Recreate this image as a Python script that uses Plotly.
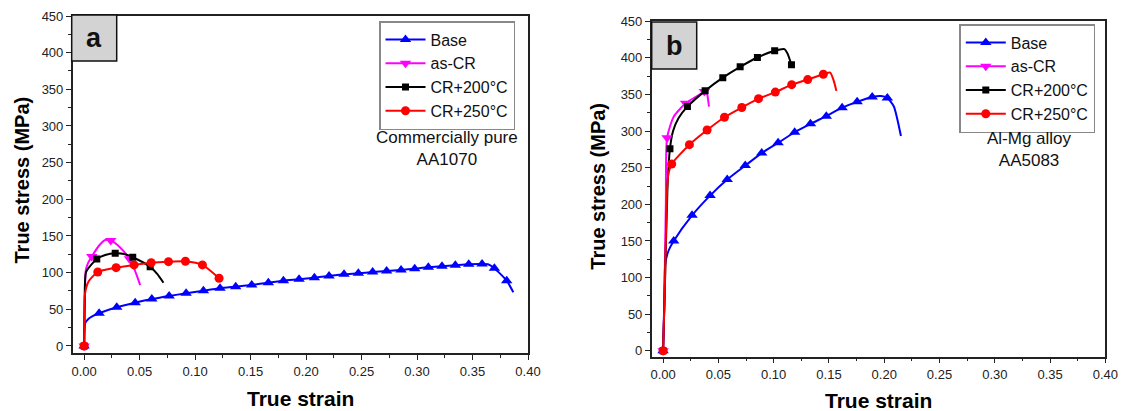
import plotly.graph_objects as go

# ---------------- Panel a : Commercially pure AA1070 ----------------
a_base_strain = [0, 0.001, 0.004, 0.008, 0.0135, 0.0294, 0.046, 0.061, 0.0766, 0.0919, 0.1075, 0.1225,
                 0.1366, 0.151, 0.166, 0.1796, 0.1937, 0.2075, 0.2207, 0.2342, 0.2471, 0.26, 0.2726,
                 0.2856, 0.2979, 0.3102, 0.3225, 0.3345, 0.3466, 0.3586, 0.364, 0.3697, 0.3808, 0.3868]
a_base_stress = [0, 31, 37, 41, 44.6, 52.7, 59, 64, 68.2, 71.8, 75.4, 78.7, 80.9, 83.2, 86.3, 89, 91,
                 93.2, 95.5, 97.7, 99.1, 100.9, 102.3, 103.6, 105.4, 107.3, 108.6, 110, 111.4, 111.8,
                 111.4, 106, 89, 73.2]
a_base_marks = [0] + list(range(4, 30)) + [31, 32]

a_ascr_strain = [0, 0.0005, 0.0015, 0.0035, 0.0069, 0.013, 0.019, 0.024, 0.032, 0.0408, 0.046, 0.0505]
a_ascr_stress = [0, 50, 103, 113, 122, 136, 144.5, 144, 135, 119, 102, 83]
a_ascr_marks = [0, 4, 7, 9]

a_cr200_strain = [0, 0.0005, 0.0018, 0.0114, 0.019, 0.028, 0.036, 0.0438, 0.0595, 0.066, 0.0715]
a_cr200_stress = [0, 60, 101, 118.6, 124, 126.4, 125.5, 121, 108, 98, 86.3]
a_cr200_marks = [0, 3, 5, 7, 8]

a_cr250_strain = [0, 0.0003, 0.0006, 0.004, 0.0123, 0.0288, 0.045, 0.0604, 0.076, 0.0913, 0.1066, 0.1216]
a_cr250_stress = [0, 40, 69.5, 88, 100.9, 106.8, 110.5, 113.6, 115, 115.5, 110.5, 92.3]
a_cr250_marks = [0] + list(range(4, 12))

# ---------------- Panel b : Al-Mg alloy AA5083 ----------------
b_base_strain = [0, 0.001, 0.002, 0.005, 0.0096, 0.0262, 0.0425, 0.058, 0.0743, 0.0892, 0.104, 0.119,
                 0.1333, 0.1476, 0.1619, 0.1755, 0.1891, 0.197, 0.2028, 0.2086, 0.2151]
b_base_stress = [0, 60, 119, 137, 150, 185, 212, 233.9, 253, 270, 284, 298.5, 310, 320.5, 332, 340,
                 346.7, 348, 345.4, 334, 293.3]
b_base_marks = [0] + list(range(4, 17)) + [18]

b_ascr_strain = [0, 0.001, 0.0025, 0.0036, 0.0096, 0.0204, 0.0373, 0.039, 0.0405, 0.0415]
b_ascr_stress = [0, 60, 200, 291, 319.7, 338, 354, 356, 345, 333.5]
b_ascr_marks = [0, 3, 5, 6]

b_cr200_strain = [0, 0.0015, 0.004, 0.0062, 0.009, 0.014, 0.022, 0.038, 0.054, 0.0697, 0.0853, 0.1009,
                  0.1097, 0.1125, 0.1161]
b_cr200_stress = [0, 80, 224, 276, 300, 318, 333.5, 355, 373, 387.8, 400.6, 409.8, 412, 406, 390.6]
b_cr200_marks = [0, 3, 6, 7, 8, 9, 10, 11, 14]

b_cr250_strain = [0, 0.0015, 0.0036, 0.005, 0.0078, 0.0238, 0.0398, 0.0555, 0.0712, 0.0863, 0.1015,
                  0.1163, 0.1308, 0.1449, 0.1511, 0.1545, 0.1567]
b_cr250_stress = [0, 80, 220, 243, 255.2, 281.5, 301.5, 319, 332.3, 344.4, 353.3, 363.5, 370.4, 377.7,
                  380, 368, 355]
b_cr250_marks = [0] + list(range(4, 14))

series_names = ["Base", "as-CR", "CR+200°C", "CR+250°C"]
x_ticks = [0, 0.05, 0.10, 0.15, 0.20, 0.25, 0.30, 0.35, 0.40]
panel_notes = ["Commercially pure<br>AA1070", "Al-Mg alloy<br>AA5083"]
panel_letters = ["a", "b"]

colors = ["#0000FF", "#FF00FF", "#000000", "#FF0000"]
symbols = ["triangle-up", "triangle-down", "square", "circle"]
msizes = [10, 10, 7, 9]

FONT = "Liberation Sans, Arial, sans-serif"
W, H = 1122, 411

fig = go.Figure()

panels = [
    dict(xa="x", ya="y", legend="legend",
         data=[(a_base_strain, a_base_stress, a_base_marks),
               (a_ascr_strain, a_ascr_stress, a_ascr_marks),
               (a_cr200_strain, a_cr200_stress, a_cr200_marks),
               (a_cr250_strain, a_cr250_stress, a_cr250_marks)]),
    dict(xa="x2", ya="y2", legend="legend2",
         data=[(b_base_strain, b_base_stress, b_base_marks),
               (b_ascr_strain, b_ascr_stress, b_ascr_marks),
               (b_cr200_strain, b_cr200_stress, b_cr200_marks),
               (b_cr250_strain, b_cr250_stress, b_cr250_marks)]),
]

for p in panels:
    # legend entries
    for k, name in enumerate(series_names):
        fig.add_trace(go.Scatter(x=[None], y=[None], mode="lines+markers", name=name,
                                 line=dict(color=colors[k], width=2),
                                 marker=dict(symbol=symbols[k], size=msizes[k], color=colors[k]),
                                 xaxis=p["xa"], yaxis=p["ya"], legend=p["legend"], showlegend=True))
    for k, (xs, ys, marks) in enumerate(p["data"]):
        fig.add_trace(go.Scatter(x=xs, y=ys, mode="lines", line=dict(color=colors[k], width=2,
                                 shape="spline", smoothing=0.6),
                                 xaxis=p["xa"], yaxis=p["ya"], showlegend=False, hoverinfo="skip"))
    for k, (xs, ys, marks) in enumerate(p["data"]):
        fig.add_trace(go.Scatter(x=[xs[i] for i in marks], y=[ys[i] for i in marks], mode="markers",
                                 marker=dict(symbol=symbols[k], size=msizes[k], color=colors[k],
                                             line=dict(width=0)),
                                 xaxis=p["xa"], yaxis=p["ya"], showlegend=False))


def px_x(v):
    return v / W


def px_y(v):
    return 1 - v / H


axis_common = dict(showgrid=False, zeroline=False, showline=True, linecolor="#222", linewidth=1.5,
                   mirror=True, ticks="outside", ticklen=5, tickwidth=1.3, tickcolor="#222",
                   tickfont=dict(family=FONT, size=13, color="#222"))

fig.update_layout(
    width=W, height=H, margin=dict(l=0, r=0, t=0, b=0, autoexpand=False),
    paper_bgcolor="white", plot_bgcolor="white",
    font=dict(family=FONT, color="#111"),
    xaxis=dict(domain=[px_x(72.7), px_x(528)], range=[-0.0103, 0.40], tickvals=x_ticks,
               tickformat=".2f", minor=dict(dtick=0.025, tick0=0, ticklen=3, ticks="outside",
                                            tickcolor="#222"), anchor="y", **axis_common),
    yaxis=dict(domain=[px_y(353.3), px_y(16)], range=[-10, 450], dtick=50, tick0=0,
               minor=dict(dtick=25, ticklen=3, ticks="outside", tickcolor="#222"), anchor="x",
               **axis_common),
    xaxis2=dict(domain=[px_x(651.7), px_x(1105.4)], range=[-0.0103, 0.40], tickvals=x_ticks,
                tickformat=".2f", minor=dict(dtick=0.025, tick0=0, ticklen=3, ticks="outside",
                                             tickcolor="#222"), anchor="y2", **axis_common),
    yaxis2=dict(domain=[px_y(356.7), px_y(21.3)], range=[-8, 450], dtick=50, tick0=0,
                minor=dict(dtick=25, ticklen=3, ticks="outside", tickcolor="#222"), anchor="x2",
                **axis_common),
    legend=dict(x=px_x(379), y=px_y(21), xanchor="left", yanchor="top", bgcolor="white",
                bordercolor="#888", borderwidth=1.5, itemwidth=40,
                font=dict(family=FONT, size=16, color="#111"), tracegroupgap=0),
    legend2=dict(x=px_x(959.3), y=px_y(24), xanchor="left", yanchor="top", bgcolor="white",
                 bordercolor="#888", borderwidth=1.5, itemwidth=40,
                 font=dict(family=FONT, size=16, color="#111"), tracegroupgap=0),
)

# panel letter boxes
boxes = [(71.7, 15, 116.7, 61), (651.7, 22, 696.7, 69)]
for (x0, y0, x1, y1), letter in zip(boxes, panel_letters):
    fig.add_shape(type="rect", xref="paper", yref="paper", x0=px_x(x0), x1=px_x(x1),
                  y0=px_y(y1), y1=px_y(y0), fillcolor="#D3D3D3", line=dict(color="#111", width=1.5))
    fig.add_annotation(xref="paper", yref="paper", x=px_x((x0 + x1) / 2), y=px_y((y0 + y1) / 2),
                       text="<b>%s</b>" % letter, showarrow=False, xanchor="center", yanchor="middle",
                       font=dict(family=FONT, size=27, color="#111"))

# material notes
for (cx, cy), note in zip([(446.7, 148), (1029.3, 149)], panel_notes):
    fig.add_annotation(xref="paper", yref="paper", x=px_x(cx), y=px_y(cy), text=note, showarrow=False,
                       xanchor="center", yanchor="middle", align="center",
                       font=dict(family=FONT, size=17, color="#111"))

# axis titles
for cx, cy in [(300.5, 398.5), (878.6, 400.5)]:
    fig.add_annotation(xref="paper", yref="paper", x=px_x(cx), y=px_y(cy), text="<b>True strain</b>",
                       showarrow=False, xanchor="center", yanchor="middle",
                       font=dict(family=FONT, size=21, color="#000"))
for cx, cy in [(21.5, 180), (597.7, 186)]:
    fig.add_annotation(xref="paper", yref="paper", x=px_x(cx), y=px_y(cy),
                       text="<b>True stress (MPa)</b>", textangle=-90, showarrow=False,
                       xanchor="center", yanchor="middle", font=dict(family=FONT, size=20, color="#000"))

fig.write_html("out.html", config={"displayModeBar": False},
               post_script="document.body.style.margin='0';document.body.style.overflow='hidden';"
                           "document.documentElement.style.overflow='hidden';")
